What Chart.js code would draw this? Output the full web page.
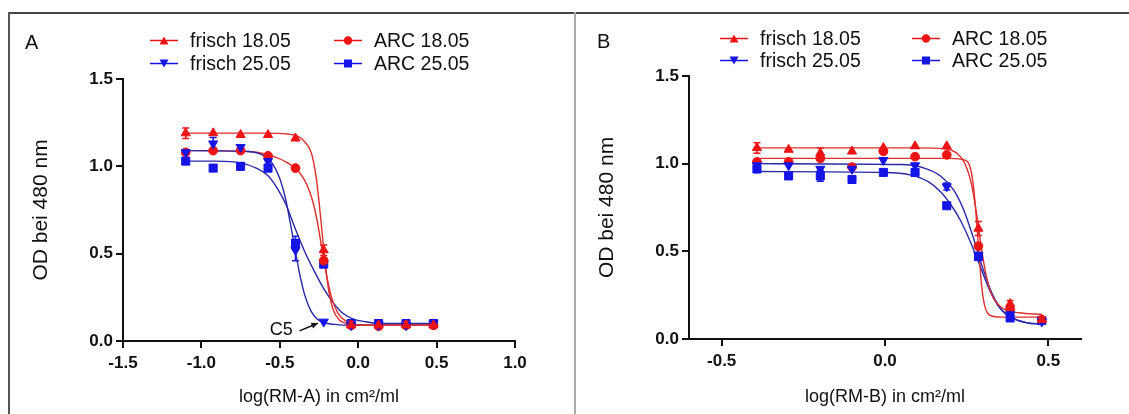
<!DOCTYPE html>
<html>
<head>
<meta charset="utf-8">
<script src="https://cdn.jsdelivr.net/npm/chart.js@4.4.1/dist/chart.umd.min.js"></script>
<style>
  body { margin: 0; background: #fff; font-family: Arial, "Liberation Sans", Helvetica, sans-serif; color: #111; }
  #page { position: relative; width: 1129px; height: 414px; overflow: hidden; }
  .box { position: absolute; top: 0; height: 414px; }
  .line { position: absolute; }
  .letter { position: absolute; font-size: 20px; transform: translateY(-50%); }
  .leg { position: absolute; display: flex; align-items: center; font-size: 19.5px; transform: translateY(-50%); white-space: nowrap; }
  .leg svg { margin-right: 12px; }
</style>
</head>
<body>
<div id="page">
  <div class="line" style="left:8px;top:12px;width:1121px;height:2px;background:#444"></div>
  <div class="line" style="left:8px;top:12px;width:2px;height:402px;background:#555"></div>
  <div class="line" style="left:574px;top:12px;width:2px;height:402px;background:#aaa"></div>

  <div class="box" style="left:0;width:574px"><canvas id="chartA"></canvas></div>
  <div class="box" style="left:576px;width:553px"><canvas id="chartB"></canvas></div>

  <div class="letter" style="left:25px;top:42px">A</div>
  <div class="letter" style="left:597px;top:41px">B</div>
  <div id="legA"></div>
  <div id="legB"></div>
</div>

<script>
let FONT = "Arial, 'Liberation Sans', Helvetica, sans-serif";

// panel A: dilution steps (log scale)
let xA = [-1.1, -0.925, -0.75, -0.575, -0.4, -0.22, -0.045, 0.13, 0.305, 0.48];
let frisch18A = [1.19, 1.19, 1.18, 1.18, 1.16, 0.52, 0.09, 0.09, 0.09, 0.09];
let frisch25A = [1.08, 1.13, 1.11, 1.03, 0.52, 0.11, 0.09, 0.09, 0.09, 0.1];
let arc18A = [1.08, 1.09, 1.09, 1.06, 0.99, 0.46, 0.09, 0.085, 0.09, 0.09];
let arc25A = [1.03, 0.99, 1.0, 0.99, 0.56, 0.44, 0.1, 0.1, 0.1, 0.1];

let errFrisch18A = [0.03, 0, 0, 0, 0, 0.03, 0, 0, 0, 0];
let errFrisch25A = [0, 0.035, 0, 0, 0.06, 0, 0, 0, 0, 0];
let errArc18A = [0, 0, 0, 0, 0, 0, 0, 0, 0, 0];
let errArc25A = [0, 0, 0.02, 0.02, 0.04, 0, 0, 0, 0, 0];

// fitted curves
let fitFrisch18AX = [-1.1, -0.6, -0.45, -0.38, -0.34, -0.3, -0.27, -0.25, -0.23, -0.21, -0.19, -0.16, -0.12, -0.07, 0.0, 0.48];
let fitFrisch18AY = [1.19, 1.19, 1.185, 1.17, 1.14, 1.08, 0.95, 0.8, 0.62, 0.44, 0.3, 0.18, 0.12, 0.1, 0.09, 0.09];
let fitArc18AX = [-1.1, -0.7, -0.55, -0.45, -0.38, -0.33, -0.29, -0.26, -0.23, -0.2, -0.17, -0.13, -0.08, -0.02, 0.1, 0.48];
let fitArc18AY = [1.09, 1.085, 1.06, 1.02, 0.97, 0.9, 0.8, 0.68, 0.52, 0.37, 0.25, 0.16, 0.115, 0.095, 0.09, 0.09];
let fitFrisch25AX = [-1.1, -0.7, -0.6, -0.55, -0.5, -0.46, -0.43, -0.4, -0.37, -0.34, -0.3, -0.26, -0.22, -0.15, -0.05, 0.48];
let fitFrisch25AY = [1.09, 1.085, 1.06, 1.02, 0.93, 0.8, 0.66, 0.51, 0.37, 0.26, 0.17, 0.125, 0.105, 0.095, 0.09, 0.09];
let fitArc25AX = [-1.1, -0.9, -0.75, -0.65, -0.58, -0.52, -0.46, -0.4, -0.34, -0.28, -0.22, -0.16, -0.1, -0.03, 0.05, 0.15, 0.48];
let fitArc25AY = [1.03, 1.03, 1.02, 0.99, 0.95, 0.88, 0.78, 0.64, 0.51, 0.4, 0.3, 0.22, 0.16, 0.125, 0.11, 0.1, 0.1];

// panel B
let xB = [-0.392, -0.295, -0.198, -0.101, -0.005, 0.092, 0.189, 0.286, 0.383, 0.48];
let frisch18B = [1.09, 1.08, 1.06, 1.07, 1.09, 1.1, 1.1, 0.63, 0.2, 0.11];
let frisch25B = [0.99, 0.99, 0.97, 0.97, 1.02, 0.99, 0.87, 0.48, 0.14, 0.1];
let arc18B = [1.01, 1.01, 1.03, 0.98, 1.07, 1.04, 1.05, 0.53, 0.17, 0.11];
let arc25B = [0.97, 0.93, 0.93, 0.91, 0.95, 0.95, 0.76, 0.47, 0.12, 0.105];

let errFrisch18B = [0.03, 0, 0.03, 0, 0, 0, 0, 0.04, 0.02, 0];
let errFrisch25B = [0, 0, 0, 0, 0, 0, 0.02, 0, 0, 0];
let errArc18B = [0, 0, 0, 0, 0, 0, 0, 0, 0, 0];
let errArc25B = [0.02, 0, 0.03, 0, 0, 0.02, 0, 0, 0, 0];

let fitFrisch18BX = [-0.392, 0.1, 0.18, 0.22, 0.245, 0.265, 0.28, 0.295, 0.31, 0.325, 0.345, 0.37, 0.41, 0.48];
let fitFrisch18BY = [1.09, 1.09, 1.085, 1.06, 1.0, 0.88, 0.72, 0.52, 0.36, 0.26, 0.2, 0.165, 0.15, 0.14];
let fitArc18BX = [-0.392, 0.2, 0.245, 0.262, 0.272, 0.28, 0.288, 0.296, 0.305, 0.315, 0.33, 0.36, 0.48];
let fitArc18BY = [1.03, 1.03, 1.02, 0.97, 0.85, 0.68, 0.48, 0.3, 0.19, 0.145, 0.13, 0.125, 0.125];
let fitFrisch25BX = [-0.392, 0.05, 0.12, 0.17, 0.21, 0.24, 0.27, 0.3, 0.33, 0.36, 0.4, 0.44, 0.48];
let fitFrisch25BY = [1.0, 0.995, 0.975, 0.93, 0.85, 0.74, 0.58, 0.4, 0.25, 0.16, 0.11, 0.09, 0.085];
let fitArc25BX = [-0.392, 0.0, 0.08, 0.13, 0.17, 0.2, 0.23, 0.26, 0.29, 0.32, 0.35, 0.39, 0.43, 0.48];
let fitArc25BY = [0.955, 0.95, 0.935, 0.9, 0.84, 0.77, 0.68, 0.56, 0.42, 0.28, 0.18, 0.12, 0.095, 0.085];

let yTicks = [0, 0.5, 1.0, 1.5];
let xTicksA = [-1.5, -1.0, -0.5, 0.0, 0.5, 1.0];
let xTicksB = [-0.5, 0.0, 0.5];
let seriesNames = ["frisch 18.05", "frisch 25.05", "ARC 18.05", "ARC 25.05"];

let RED = "rgb(238, 20, 20)";
let RED_LINE = "rgb(222, 45, 45)";
let BLUE = "rgb(20, 20, 230)";
let BLUE_LINE = "rgb(40, 40, 170)";

function points(xs, ys) {
  return xs.map((x, i) => ({ x: x, y: ys[i] }));
}

function markerSet(label, xs, ys, errs, style, color, rot) {
  return {
    label: label,
    data: points(xs, ys),
    errors: errs,
    showLine: false,
    pointStyle: style,
    rotation: rot || 0,
    pointRadius: style == "circle" ? 4.4 : style == "rect" ? 5.7 : 5.3,
    backgroundColor: color,
    borderColor: color,
    borderWidth: 1,
    order: 0,
  };
}

function curveSet(xs, ys, color) {
  return {
    label: "",
    data: points(xs, ys),
    borderColor: color,
    borderWidth: 1.4,
    pointRadius: 0,
    fill: false,
    cubicInterpolationMode: "monotone",
    order: 1,
  };
}

// error bars under the markers, plus the C5 note
let extras = {
  id: "extras",
  beforeDatasetsDraw(chart) {
    let ctx = chart.ctx;
    let xs = chart.scales.x;
    let ys = chart.scales.y;
    chart.data.datasets.forEach((ds) => {
      if (!ds.errors) return;
      ctx.save();
      ctx.strokeStyle = ds.borderColor;
      ctx.lineWidth = 1.5;
      ds.data.forEach((p, i) => {
        let e = ds.errors[i];
        if (!e) return;
        let px = xs.getPixelForValue(p.x);
        let top = ys.getPixelForValue(p.y + e);
        let bot = ys.getPixelForValue(p.y - e);
        ctx.beginPath();
        ctx.moveTo(px, top);
        ctx.lineTo(px, bot);
        ctx.moveTo(px - 3.5, top);
        ctx.lineTo(px + 3.5, top);
        ctx.moveTo(px - 3.5, bot);
        ctx.lineTo(px + 3.5, bot);
        ctx.stroke();
      });
      ctx.restore();
    });
  },
  afterDatasetsDraw(chart, args, opts) {
    if (!opts.note) return;
    let n = opts.note;
    let ctx = chart.ctx;
    let xs = chart.scales.x;
    let ys = chart.scales.y;
    let tx = xs.getPixelForValue(n.textX);
    let ty = ys.getPixelForValue(n.textY);
    ctx.save();
    ctx.fillStyle = "#111";
    ctx.font = "18px " + FONT;
    ctx.textAlign = "center";
    ctx.textBaseline = "middle";
    ctx.fillText(n.text, tx, ty);
    let x0 = xs.getPixelForValue(n.fromX);
    let y0 = ys.getPixelForValue(n.fromY);
    let x1 = xs.getPixelForValue(n.toX);
    let y1 = ys.getPixelForValue(n.toY);
    ctx.strokeStyle = "#111";
    ctx.lineWidth = 1.5;
    ctx.beginPath();
    ctx.moveTo(x0, y0);
    ctx.lineTo(x1, y1);
    ctx.stroke();
    let a = Math.atan2(y1 - y0, x1 - x0);
    ctx.beginPath();
    ctx.moveTo(x1, y1);
    ctx.lineTo(x1 - 7 * Math.cos(a - 0.45), y1 - 7 * Math.sin(a - 0.45));
    ctx.lineTo(x1 - 7 * Math.cos(a + 0.45), y1 - 7 * Math.sin(a + 0.45));
    ctx.closePath();
    ctx.fillStyle = "#111";
    ctx.fill();
    ctx.restore();
  },
};

function makeChart(id, cfg) {
  let tickFont = { family: FONT, size: 17, weight: "bold" };
  return new Chart(document.getElementById(id), {
    type: "line",
    data: { datasets: cfg.datasets },
    plugins: [extras],
    options: {
      responsive: true,
      maintainAspectRatio: false,
      animation: false,
      layout: { padding: { left: 0, top: cfg.top, right: cfg.right, bottom: 0 } },
      plugins: {
        legend: { display: false },
        tooltip: { enabled: false },
        extras: { note: cfg.note },
      },
      scales: {
        x: {
          type: "linear",
          min: cfg.xMin,
          max: cfg.xMax,
          afterFit: (s) => { s.height = cfg.xHeight; },
          afterBuildTicks: (s) => { s.ticks = cfg.xTicks.map((v) => ({ value: v })); },
          grid: { drawOnChartArea: false, drawTicks: true, tickLength: 7, color: "#111", lineWidth: 2 },
          border: { display: true, color: "#111", width: 2 },
          ticks: {
            color: "#111",
            font: tickFont,
            padding: 5,
            maxRotation: 0,
            autoSkip: false,
            callback: (v) => v.toFixed(1),
          },
          title: {
            display: true,
            text: cfg.xTitle,
            color: "#111",
            font: { family: FONT, size: 18 },
            padding: { top: 0, bottom: 6 },
          },
        },
        y: {
          type: "linear",
          min: 0,
          max: 1.5,
          afterFit: (s) => { s.width = cfg.yWidth; },
          afterBuildTicks: (s) => { s.ticks = yTicks.map((v) => ({ value: v })); },
          grid: { drawOnChartArea: false, drawTicks: true, tickLength: 7, color: "#111", lineWidth: 2 },
          border: { display: true, color: "#111", width: 2 },
          ticks: {
            color: "#111",
            font: tickFont,
            padding: 3,
            callback: (v) => v.toFixed(1),
          },
          title: {
            display: true,
            text: "OD bei 480 nm",
            color: "#111",
            font: { family: FONT, size: 21 },
            padding: { top: cfg.yTitlePad, bottom: 0 },
          },
        },
      },
    },
  });
}

makeChart("chartA", {
  top: 79,
  right: 59,
  yWidth: 123,
  xHeight: 73,
  yTitlePad: 29,
  xMin: -1.5,
  xMax: 1.0,
  xTicks: xTicksA,
  xTitle: "log(RM-A) in cm²/ml",
  note: { text: "C5", textX: -0.49, textY: 0.063, fromX: -0.375, fromY: 0.058, toX: -0.258, toY: 0.102 },
  datasets: [
    markerSet(seriesNames[0], xA, frisch18A, errFrisch18A, "triangle", RED),
    markerSet(seriesNames[1], xA, frisch25A, errFrisch25A, "triangle", BLUE, 180),
    markerSet(seriesNames[2], xA, arc18A, errArc18A, "circle", RED),
    markerSet(seriesNames[3], xA, arc25A, errArc25A, "rect", BLUE),
    curveSet(fitFrisch18AX, fitFrisch18AY, RED_LINE),
    curveSet(fitFrisch25AX, fitFrisch25AY, BLUE_LINE),
    curveSet(fitArc18AX, fitArc18AY, RED_LINE),
    curveSet(fitArc25AX, fitArc25AY, BLUE_LINE),
  ],
});

makeChart("chartB", {
  top: 76,
  right: 48,
  yWidth: 113,
  xHeight: 75,
  yTitlePad: 19,
  xMin: -0.6,
  xMax: 0.6,
  xTicks: xTicksB,
  xTitle: "log(RM-B) in cm²/ml",
  note: null,
  datasets: [
    markerSet(seriesNames[0], xB, frisch18B, errFrisch18B, "triangle", RED),
    markerSet(seriesNames[1], xB, frisch25B, errFrisch25B, "triangle", BLUE, 180),
    markerSet(seriesNames[2], xB, arc18B, errArc18B, "circle", RED),
    markerSet(seriesNames[3], xB, arc25B, errArc25B, "rect", BLUE),
    curveSet(fitFrisch18BX, fitFrisch18BY, RED_LINE),
    curveSet(fitFrisch25BX, fitFrisch25BY, BLUE_LINE),
    curveSet(fitArc18BX, fitArc18BY, RED_LINE),
    curveSet(fitArc25BX, fitArc25BY, BLUE_LINE),
  ],
});

// legends: two columns, two rows
function legendIcon(color, shape) {
  let m = "";
  if (shape == "up") m = `<polygon points="14,2 18.5,10 9.5,10" fill="${color}"/>`;
  if (shape == "down") m = `<polygon points="14,10 18.5,2 9.5,2" fill="${color}"/>`;
  if (shape == "circle") m = `<circle cx="14" cy="6" r="4.2" fill="${color}"/>`;
  if (shape == "rect") m = `<rect x="10" y="2" width="8" height="8" fill="${color}"/>`;
  return `<svg width="28" height="12"><line x1="0" y1="6" x2="28" y2="6" stroke="${color}" stroke-width="1.5"/>${m}</svg>`;
}

function buildLegend(id, left1, left2, row1, row2) {
  let entries = [
    [seriesNames[0], RED, "up", left1, row1],
    [seriesNames[1], BLUE, "down", left1, row2],
    [seriesNames[2], RED, "circle", left2, row1],
    [seriesNames[3], BLUE, "rect", left2, row2],
  ];
  let markUp = "";
  entries.forEach((e) => {
    markUp += `<div class="leg" style="left:${e[3]}px;top:${e[4]}px">${legendIcon(e[1], e[2])}<span>${e[0]}</span></div>`;
  });
  document.getElementById(id).innerHTML = markUp;
}

buildLegend("legA", 150, 334, 40, 63);
buildLegend("legB", 720, 912, 38, 60);
</script>
</body>
</html>
